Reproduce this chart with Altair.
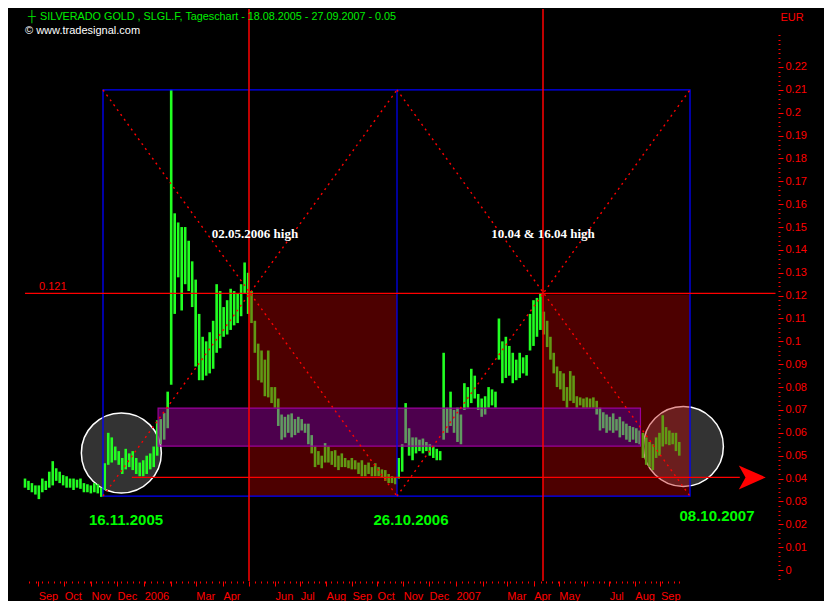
import altair as alt
import pandas as pd

# ------------------------------------------------------------------ data
# price bars: one bar per 4 calendar days, low/high range in EUR
bar_start = "2005-08-18"
bar_low = [
    0.036, 0.035, 0.034, 0.033, 0.031, 0.034, 0.035, 0.036, 0.037, 0.039, 0.038, 0.037,
    0.036, 0.036, 0.035, 0.036, 0.0355, 0.034, 0.034, 0.0335, 0.034, 0.0335, 0.032,
    0.035, 0.046, 0.047, 0.048, 0.046, 0.042, 0.044, 0.045, 0.0437, 0.042, 0.041, 0.041,
    0.042, 0.044, 0.045, 0.050, 0.055, 0.057, 0.062, 0.081, 0.112, 0.128, 0.1135, 0.125,
    0.122, 0.115, 0.089, 0.083, 0.083, 0.085, 0.086, 0.088, 0.095, 0.097, 0.102, 0.103,
    0.105, 0.107, 0.108, 0.111, 0.121, 0.112,
    0.108, 0.095, 0.083, 0.082, 0.076, 0.0755, 0.073, 0.071, 0.063, 0.057, 0.058, 0.060,
    0.058, 0.059, 0.060, 0.061, 0.060, 0.055, 0.051, 0.045, 0.046, 0.0445, 0.047, 0.047,
    0.046, 0.045, 0.0437, 0.045, 0.045, 0.0445, 0.044, 0.044, 0.042, 0.041, 0.041, 0.042,
    0.041, 0.041, 0.041, 0.0405, 0.039, 0.038, 0.038, 0.0375,
    0.040, 0.043, 0.0555, 0.050, 0.048, 0.051, 0.052, 0.051, 0.052, 0.050, 0.049, 0.048,
    0.048, 0.057, 0.060, 0.063, 0.060, 0.056, 0.055, 0.070, 0.071, 0.073, 0.075, 0.070,
    0.067, 0.068, 0.071, 0.072, 0.071, 0.092, 0.0817, 0.084, 0.085, 0.0817, 0.083, 0.084,
    0.086, 0.085, 0.096, 0.098, 0.102, 0.105,
    0.103, 0.0975, 0.092, 0.086, 0.080, 0.079, 0.074, 0.071, 0.074, 0.073, 0.071, 0.072,
    0.071, 0.071, 0.071, 0.071, 0.068, 0.061, 0.062, 0.060, 0.061, 0.060, 0.061, 0.058,
    0.059, 0.057, 0.056, 0.057, 0.0555, 0.055, 0.049, 0.046, 0.045, 0.0437, 0.049, 0.050,
    0.054, 0.055, 0.0546, 0.055, 0.052, 0.050,
]
bar_high = [
    0.040, 0.039, 0.038, 0.037, 0.037, 0.040, 0.039, 0.043, 0.0476, 0.0445, 0.043, 0.0415,
    0.041, 0.040, 0.040, 0.0395, 0.040, 0.038, 0.0375, 0.037, 0.038, 0.0375, 0.036,
    0.0467, 0.060, 0.058, 0.054, 0.052, 0.049, 0.053, 0.051, 0.052, 0.049, 0.047, 0.048,
    0.050, 0.051, 0.054, 0.0655, 0.066, 0.0686, 0.078, 0.210, 0.156, 0.152, 0.150, 0.150,
    0.144, 0.135, 0.127, 0.112, 0.102, 0.100, 0.104, 0.109, 0.125, 0.122, 0.115, 0.118,
    0.123, 0.122, 0.121, 0.125, 0.1345, 0.130,
    0.122, 0.109, 0.099, 0.096, 0.092, 0.096, 0.080, 0.080, 0.075, 0.068, 0.067, 0.068,
    0.0685, 0.066, 0.067, 0.066, 0.064, 0.064, 0.059, 0.054, 0.052, 0.050, 0.0555, 0.054,
    0.052, 0.0524, 0.050, 0.051, 0.049, 0.048, 0.049, 0.048, 0.047, 0.048, 0.046, 0.047,
    0.045, 0.0467, 0.045, 0.044, 0.0437, 0.042, 0.041, 0.0405,
    0.049, 0.055, 0.073, 0.062, 0.058, 0.058, 0.057, 0.0575, 0.056, 0.055, 0.054, 0.053,
    0.052, 0.095, 0.071, 0.078, 0.070, 0.071, 0.068, 0.0817, 0.080, 0.088, 0.085, 0.077,
    0.075, 0.076, 0.080, 0.079, 0.078, 0.110, 0.100, 0.102, 0.098, 0.095, 0.092, 0.095,
    0.093, 0.094, 0.112, 0.118, 0.119, 0.121,
    0.113, 0.109, 0.102, 0.095, 0.089, 0.087, 0.086, 0.080, 0.087, 0.085, 0.076, 0.0755,
    0.075, 0.0755, 0.075, 0.0755, 0.074, 0.071, 0.069, 0.068, 0.067, 0.0685, 0.066, 0.067,
    0.065, 0.064, 0.063, 0.0625, 0.062, 0.061, 0.060, 0.058, 0.056, 0.055, 0.058, 0.060,
    0.0677, 0.0625, 0.061, 0.060, 0.060, 0.056,
]
assert len(bar_low) == len(bar_high) == 193

# time-cycle analysis
cycle_dates = ["2005-11-16", "2006-05-02", "2006-10-26", "2007-04-13", "2007-10-08"]
cycle_date_labels = ["16.11.2005", "26.10.2006", "08.10.2007"]
high_labels = ["02.05.2006 high", "10.04 & 16.04 high"]
box_low, box_high = 0.0323, 0.210
high_level = 0.121
zone_top = 0.1205
support_level = 0.0405
support_dates = ["2005-12-19", "2007-12-07"]
arrow_date = "2007-12-22"
band_dates = ["2006-01-18", "2007-08-09"]
band_low, band_high = 0.0542, 0.0708
circle_dates = ["2005-12-07", "2007-09-30"]
circle_values = [0.0512, 0.0540]
hline_dates = ["2005-08-18", "2008-01-19"]
label_y_high = 0.147
label_y_dates = [0.0219, 0.0219, 0.0236]

header = "SILVERADO GOLD  , SLGL.F, Tageschart - 18.08.2005 - 27.09.2007 - 0.05"
copyright_text = "\u00a9 www.tradesignal.com"
currency = "EUR"

month_starts = pd.date_range("2005-09-01", "2007-09-01", freq="MS")
month_labels = ["Sep", "Oct", "Nov", "Dec", "2006", "", "Mar", "Apr", "", "Jun", "Jul", "Aug",
                "Sep", "Oct", "Nov", "Dec", "2007", "", "Mar", "Apr", "May", "", "Jul", "Aug", "Sep"]
week_starts = pd.date_range("2005-08-22", "2007-09-24", freq="W-MON")


def ms(s):
    """date -> epoch milliseconds (UTC)"""
    return int(pd.Timestamp(s, tz="UTC").value // 10**6)


# ------------------------------------------------------------------ tables
bars = pd.DataFrame({
    "t": [ms(d) for d in pd.date_range(bar_start, periods=len(bar_low), freq="4D")],
    "low": bar_low, "high": bar_high,
})
d0, d1, d2, d3, d4 = [ms(d) for d in cycle_dates]
b0, b1 = ms(band_dates[0]), ms(band_dates[1])
cross = pd.DataFrame({
    "xa": [d0, d0, d2, d2], "ya": [box_low, box_high, box_low, box_high],
    "xb": [d2, d2, d4, d4], "yb": [box_high, box_low, box_high, box_low],
})
box = pd.DataFrame({"x": [d0], "x2": [d4], "y": [box_low], "y2": [box_high]})
mid = pd.DataFrame({"x": [d2], "y": [box_low], "y2": [box_high]})
# red zones (after each high, down to the cycle low), cut around the purple band
red_zones = pd.DataFrame({
    "x":  [d1, d1, d3, d3, b1],
    "x2": [d2, d2, d4, d4, d4],
    "y":  [band_high, box_low, band_high, box_low, band_low],
    "y2": [zone_top, band_low, zone_top, band_low, band_high],
})
band = pd.DataFrame({"x": [b0], "x2": [b1], "y": [band_low], "y2": [band_high]})
circles = pd.DataFrame({"x": [ms(d) for d in circle_dates], "y": circle_values})
vlines = pd.DataFrame({"x": [d1, d3]})
hline = pd.DataFrame({"x": [ms(hline_dates[0])], "x2": [ms(hline_dates[1])], "y": [high_level]})
support = pd.DataFrame({"x": [ms(support_dates[0])], "x2": [ms(support_dates[1])], "y": [support_level]})
arrow = pd.DataFrame({"x": [ms(arrow_date)], "y": [support_level]})

# ------------------------------------------------------------------ scales & axes
RED = "#ff0000"
GREEN = "#22ff22"
FONT = "Liberation Sans"

# piecewise-linear time scale (the source chart's spacing is not exactly uniform)
x_anchor_dates = ["2005-07-30", "2005-08-18", "2005-11-16", "2006-05-02", "2006-10-26",
                  "2007-04-13", "2007-10-08", "2008-01-22"]
x_anchor_px = [0, 17, 95, 241, 389, 535, 682, 770]
xscale = alt.Scale(type="linear", domain=[ms(d) for d in x_anchor_dates], range=x_anchor_px,
                   nice=False, zero=False)
yscale = alt.Scale(domain=[-0.00481, 0.24536], nice=False, zero=False)

keys = [d.strftime("%Y-%m") for d in month_starts]
keys_js = "[" + ",".join(f"'{k}'" for k in keys) + "]"
labels_js = "[" + ",".join(f"'{l}'" for l in month_labels) + "]"
x_label_expr = (f"utcdate(datum.value) == 1 && indexof({keys_js}, utcFormat(datum.value, '%Y-%m')) >= 0 "
                f"? {labels_js}[indexof({keys_js}, utcFormat(datum.value, '%Y-%m'))] : ''")
x_tick_values = sorted(set([ms(d) for d in month_starts] + [ms(d) for d in week_starts]))

xaxis = alt.Axis(
    values=x_tick_values, labelExpr=x_label_expr, title=None, grid=False, domain=False,
    tickColor=RED, tickWidth=1,
    tickSize={"condition": {"test": "utcdate(datum.value) == 1", "value": 5}, "value": 2},
    labelColor=RED, labelFont=FONT, labelFontSize=11, labelAlign="left", labelPadding=4,
    labelOverlap=False, labelFlush=False, labelBound=False, tickOffset=1,
)

major_test = "abs(datum.value*100 - round(datum.value*100)) < 0.01 && datum.value > -0.0001 && datum.value < 0.2201"
y_tick_values = [round(-0.004 + 0.002 * i, 3) for i in range(120)]
yaxis = alt.Axis(
    orient="right", values=y_tick_values,
    labelExpr=f"({major_test}) ? format(datum.value, '~g') : ''",
    grid=False, domain=False, tickColor=RED, tickWidth=1,
    tickSize={"condition": {"test": major_test, "value": 5}, "value": 2},
    labelColor=RED, labelFont=FONT, labelFontSize=11, labelPadding=2,
    labelOverlap=False, labelBound=False, labelFlush=False,
    title=currency, titleAngle=0, titleColor=RED, titleFont=FONT, titleFontSize=11,
    titleFontWeight="normal", titleAlign="left", titleBaseline="middle", titleX=2, titleY=8,
)


def X(f):
    return alt.X(f, type="quantitative", scale=xscale, axis=xaxis)


def Y(f):
    return alt.Y(f, type="quantitative", scale=yscale, axis=yaxis)


# ------------------------------------------------------------------ layers
circ = alt.Chart(circles).mark_point(
    shape="circle", size=6400, filled=True, fill="white", fillOpacity=0.2,
    stroke="white", strokeWidth=1.5, strokeOpacity=1, opacity=1,
).encode(x=X("x"), y=Y("y"))

price = alt.Chart(bars).mark_rule(color=GREEN, strokeWidth=2.6).encode(
    x=X("t"), y=Y("low"), y2="high:Q")

zones = alt.Chart(red_zones).mark_rect(color="#c00000", opacity=0.4).encode(
    x=X("x"), x2="x2:Q", y=Y("y"), y2="y2:Q")

band_l = alt.Chart(band).mark_rect(fill="#c000c0", fillOpacity=0.4, stroke="#9a009a",
                                   strokeWidth=1.2).encode(
    x=X("x"), x2="x2:Q", y=Y("y"), y2="y2:Q")

box_l = alt.Chart(box).mark_rect(fillOpacity=0, fill="black", stroke="#0000ff", strokeWidth=1.3).encode(
    x=X("x"), x2="x2:Q", y=Y("y"), y2="y2:Q")
mid_l = alt.Chart(mid).mark_rule(color="#0000ff", strokeWidth=1.2).encode(
    x=X("x"), y=Y("y"), y2="y2:Q")

cross_l = alt.Chart(cross).mark_rule(color=RED, strokeWidth=1.4, strokeDash=[2, 4]).encode(
    x=X("xa"), y=Y("ya"), x2="xb:Q", y2="yb:Q")

vline_l = alt.Chart(vlines).mark_rule(color=RED, strokeWidth=1.5).encode(x=X("x"))
hline_l = alt.Chart(hline).mark_rule(color=RED, strokeWidth=1.3).encode(x=X("x"), x2="x2:Q", y=Y("y"))
support_l = alt.Chart(support).mark_rule(color=RED, strokeWidth=1.3).encode(x=X("x"), x2="x2:Q", y=Y("y"))
arrow_l = alt.Chart(arrow).mark_point(
    shape="M-1,-0.89L1,0L-1,0.89L-0.5,0Z", size=729, filled=True, fill=RED, opacity=1,
    strokeWidth=0).encode(x=X("x"), y=Y("y"))

level_txt = alt.Chart(pd.DataFrame({"x": [ms(hline_dates[0])], "y": [high_level], "t": ["0.121"]})).mark_text(
    color=RED, font=FONT, fontSize=11, align="left", baseline="middle", dx=14, dy=-6
).encode(x=X("x"), y=Y("y"), text="t:N")


def high_text(date, text, dx):
    return alt.Chart(pd.DataFrame({"x": [date], "y": [label_y_high], "t": [text]})).mark_text(
        color="white", font="Liberation Serif", fontWeight="bold", fontSize=13,
        align="center", baseline="middle", dx=dx).encode(x=X("x"), y=Y("y"), text="t:N")


def date_text(date, y, text, dx):
    return alt.Chart(pd.DataFrame({"x": [date], "y": [y], "t": [text]})).mark_text(
        color="#00ff00", font=FONT, fontWeight="bold", fontSize=15,
        align="center", baseline="middle", dx=dx).encode(x=X("x"), y=Y("y"), text="t:N")


def header_text(text, x, y, color, size=11):
    return alt.Chart(pd.DataFrame({"t": [text]})).mark_text(
        color=color, font=FONT, fontSize=size, align="left", baseline="middle"
    ).encode(x=alt.value(x), y=alt.value(y), text="t:N")


layers = [
    circ, price, zones, band_l, box_l, mid_l, cross_l, vline_l, hline_l, support_l, arrow_l,
    level_txt,
    high_text(d1, high_labels[0], 6), high_text(d3, high_labels[1], 0),
    date_text(d0, label_y_dates[0], cycle_date_labels[0], 23),
    date_text(d2, label_y_dates[1], cycle_date_labels[1], 14),
    date_text(d4, label_y_dates[2], cycle_date_labels[2], 27),
    header_text("\u253c", 20, 8, "#00ee00"),
    header_text(header, 32, 8, "#00ee00", 10.8),
    header_text(copyright_text, 17, 22, "white"),
]

chart = alt.layer(*layers).properties(
    width=770, height=572, autosize="none",
    padding={"left": 0, "top": 1, "right": 46, "bottom": 20},
).configure(background="black").configure_view(strokeWidth=0)

chart.save("out.html", embed_options={"renderer": "svg", "actions": False})
